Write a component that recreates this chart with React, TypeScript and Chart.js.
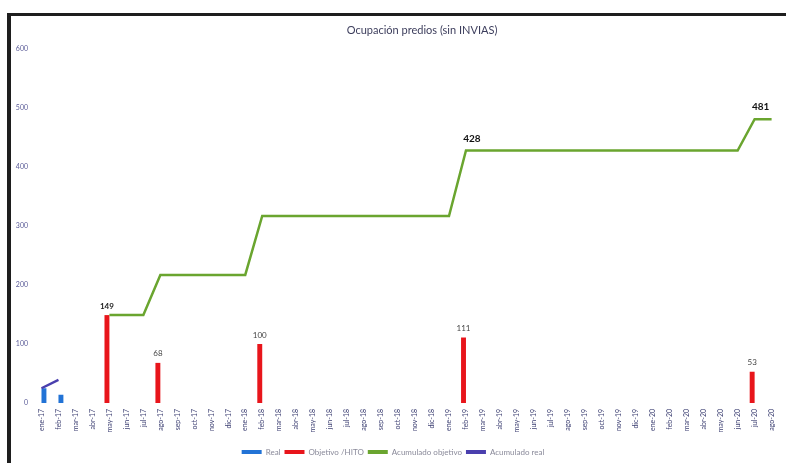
import React, { useEffect, useRef } from "react";
import { Chart, registerables } from "chart.js";

Chart.register(...registerables);

const categories = [
  "ene-17", "feb-17", "mar-17", "abr-17", "may-17", "jun-17", "jul-17", "ago-17", "sep-17", "oct-17", "nov-17", "dic-17",
  "ene-18", "feb-18", "mar-18", "abr-18", "may-18", "jun-18", "jul-18", "ago-18", "sep-18", "oct-18", "nov-18", "dic-18",
  "ene-19", "feb-19", "mar-19", "abr-19", "may-19", "jun-19", "jul-19", "ago-19", "sep-19", "oct-19", "nov-19", "dic-19",
  "ene-20", "feb-20", "mar-20", "abr-20", "may-20", "jun-20", "jul-20", "ago-20",
];

const realValues: (number | null)[] = [
  25, 14, null, null, null, null, null, null, null, null, null, null,
  null, null, null, null, null, null, null, null, null, null, null, null,
  null, null, null, null, null, null, null, null, null, null, null, null,
  null, null, null, null, null, null, null, null,
];

const objetivoValues: (number | null)[] = [
  null, null, null, null, 149, null, null, 68, null, null, null, null,
  null, 100, null, null, null, null, null, null, null, null, null, null,
  null, 111, null, null, null, null, null, null, null, null, null, null,
  null, null, null, null, null, null, 53, null,
];

const acumObjetivo: (number | null)[] = [
  null, null, null, null, 149, 149, 149, 217, 217, 217, 217, 217,
  217, 317, 317, 317, 317, 317, 317, 317, 317, 317, 317, 317,
  317, 428, 428, 428, 428, 428, 428, 428, 428, 428, 428, 428,
  428, 428, 428, 428, 428, 428, 481, 481,
];

const acumReal: (number | null)[] = [
  25, 39, null, null, null, null, null, null, null, null, null, null,
  null, null, null, null, null, null, null, null, null, null, null, null,
  null, null, null, null, null, null, null, null, null, null, null, null,
  null, null, null, null, null, null, null, null,
];

const acumLabelIndices = [25, 42];

const yTicks = [0, 100, 200, 300, 400, 500, 600];

const TITLE = "Ocupación predios (sin INVIAS)";

const COLORS = {
  real: "#2273d6",
  objetivo: "#e8151b",
  acumObj: "#6aa52f",
  acumReal: "#4a3fae",
};

const valueLabelPlugin = {
  id: "valueLabels",
  afterDatasetsDraw(chart: any) {
    const ctx = chart.ctx;
    ctx.save();
    ctx.textAlign = "center";
    ctx.textBaseline = "middle";
    const m1 = chart.getDatasetMeta(1);
    m1.data.forEach((el: any, i: number) => {
      const v = objetivoValues[i];
      if (v == null) return;
      ctx.font = (i === 4 ? "bold " : "") + "8px Lato";
      ctx.fillStyle = i === 4 ? "#222" : "#444";
      ctx.fillText(String(v), el.x, el.y - 9);
    });
    const m2 = chart.getDatasetMeta(2);
    ctx.font = "bold 10px Lato";
    ctx.fillStyle = "#111";
    acumLabelIndices.forEach((i) => {
      const el = m2.data[i];
      const v = acumObjetivo[i];
      if (!el || v == null) return;
      ctx.fillText(String(v), el.x + 6, el.y - 12);
    });
    ctx.restore();
  },
  afterDraw(chart: any) {
    const ctx = chart.ctx;
    ctx.save();
    ctx.font = "11px Lato";
    ctx.fillStyle = "#3c3d5c";
    ctx.textAlign = "center";
    ctx.textBaseline = "middle";
    ctx.fillText(TITLE, 422, 30);
    ctx.restore();
  },
};

export default function App() {
  const ref = useRef<HTMLCanvasElement | null>(null);

  useEffect(() => {
    if (!ref.current) return;
    const chart = new Chart(ref.current, {
      type: "bar",
      data: {
        labels: categories,
        datasets: [
          {
            type: "bar",
            label: "Real",
            data: realValues,
            backgroundColor: COLORS.real,
            categoryPercentage: 0.58,
            barPercentage: 1,
            order: 3,
          },
          {
            type: "bar",
            label: "Objetivo /HITO",
            data: objetivoValues,
            backgroundColor: COLORS.objetivo,
            categoryPercentage: 0.58,
            barPercentage: 1,
            order: 2,
          },
          {
            type: "line",
            label: "Acumulado objetivo",
            data: acumObjetivo,
            borderColor: COLORS.acumObj,
            backgroundColor: COLORS.acumObj,
            borderWidth: 2.5,
            pointRadius: 0,
            tension: 0,
            order: 1,
          },
          {
            type: "line",
            label: "Acumulado real",
            data: acumReal,
            borderColor: COLORS.acumReal,
            backgroundColor: COLORS.acumReal,
            borderWidth: 2.5,
            pointRadius: 0,
            tension: 0,
            order: 0,
          },
        ] as any,
      },
      options: {
        responsive: false,
        animation: false,
        maintainAspectRatio: false,
        layout: { padding: { top: 49, left: 0, right: 0, bottom: -3 } },
        plugins: {
          title: { display: false },
          tooltip: { enabled: false },
          legend: {
            display: true,
            position: "bottom",
            labels: {
              font: { size: 8, family: "Lato" },
              color: "#8a8a9a",
              boxWidth: 20,
              boxHeight: 4,
              padding: 4,
              generateLabels: (c: any) =>
                c.data.datasets.map((ds: any, i: number) => ({
                  text: ds.label,
                  fillStyle: ds.backgroundColor,
                  strokeStyle: ds.backgroundColor,
                  lineWidth: 0,
                  hidden: false,
                  datasetIndex: i,
                  fontColor: "#8a8a9a",
                })),
            },
          },
        },
        scales: {
          x: {
            grid: { display: false, drawTicks: false },
            border: { display: false },
            ticks: {
              autoSkip: false,
              maxRotation: 90,
              minRotation: 90,
              padding: 6,
              font: { size: 7, family: "Lato" },
              color: "#3c3f72",
            },
            afterFit: (s: any) => {
              s.height = 41;
            },
          },
          y: {
            min: 0,
            max: 600,
            grid: { display: false, drawTicks: false },
            border: { display: false },
            afterBuildTicks: (s: any) => {
              s.ticks = yTicks.map((v) => ({ value: v }));
            },
            ticks: {
              padding: 5,
              font: { size: 7, family: "Lato" },
              color: "#5b5c98",
            },
            afterFit: (s: any) => {
              s.width = 33;
            },
          },
        },
      },
      plugins: [valueLabelPlugin],
    });
    return () => chart.destroy();
  }, []);

  return (
    <div style={{ position: "absolute", left: 0, top: 0, width: 786, height: 463, background: "#fff", overflow: "hidden" }}>
      <canvas ref={ref} width={786} height={463} style={{ position: "absolute", left: 0, top: 0 }} />
      <div style={{ position: "absolute", left: 7, top: 13, width: 779, height: 3, background: "#1e1e1e", pointerEvents: "none" }} />
      <div style={{ position: "absolute", left: 7, top: 13, width: 4, height: 450, background: "#1e1e1e", pointerEvents: "none" }} />
    </div>
  );
}
